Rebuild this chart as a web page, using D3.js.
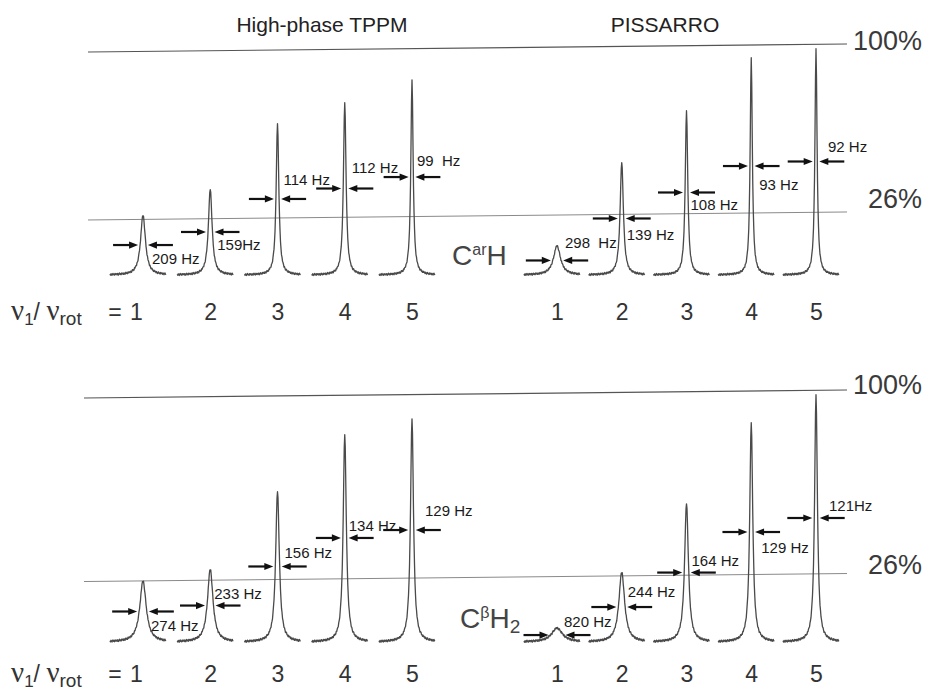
<!DOCTYPE html>
<html>
<head>
<meta charset="utf-8">
<script src="https://cdn.jsdelivr.net/npm/d3@7"></script>
<style>
  body { margin: 0; background: #fff; }
  svg { display: block; font-family: "Liberation Sans", Arial, sans-serif; }
</style>
</head>
<body>
<div id="chart"></div>
<script>
// ---- data ----
var ratios        = [ 1, 2, 3, 4, 5 ];          // nu1 / nu_rot
var refLevels     = [ 100, 26 ];
var refLabels     = [ '100%', '26%' ];
var methods       = [ 'High-phase TPPM', 'PISSARRO' ];

// CarH, high-phase TPPM
var tppmArHeight  = [ 26.4, 37.9, 67.0, 76.2, 86.3 ];
var tppmArHz      = [ 209, 159, 114, 112, 99 ];
var tppmArText    = [ '209 Hz', '159Hz', '114 Hz', '112 Hz', '99  Hz' ];
// CarH, PISSARRO
var pissArHeight  = [ 12.8, 49.8, 72.7, 96.0, 100 ];
var pissArHz      = [ 298, 139, 108, 93, 92 ];
var pissArText    = [ '298  Hz', '139 Hz', '108 Hz', '93 Hz', '92 Hz' ];
// CbH2, high-phase TPPM
var tppmCbHeight  = [ 24.6, 29.4, 60.9, 83.9, 90.3 ];
var tppmCbHz      = [ 274, 233, 156, 134, 129 ];
var tppmCbText    = [ '274 Hz', '233 Hz', '156 Hz', '134 Hz', '129 Hz' ];
// CbH2, PISSARRO
var pissCbHeight  = [ 5.6, 28.2, 56.0, 88.7, 100 ];
var pissCbHz      = [ 820, 244, 164, 129, 121 ];
var pissCbText    = [ '820 Hz', '244 Hz', '164 Hz', '129 Hz', '121Hz' ];

// small fixed baseline texture (in % units)
var wiggle        = [ 0.2, -0.3, 0.35, 0, -0.4, 0.25, 0.45, -0.15, 0.1, -0.35, 0.4, -0.1, 0.3 ];

// ---- layout ----
var chart_width   = 933;
var chart_height  = 691;
var lineTilt      = 8;

// line width (FWHM, px) from the quoted Hz value
var w_scale = d3.scaleLinear().domain([ 0, 300, 820 ]).range([ 0, 8.4, 13 ]);

var svg = d3.select( '#chart' )
    .append( 'svg' )
    .attr( 'width', chart_width )
    .attr( 'height', chart_height );

var x_left  = d3.scaleLinear().domain([ 1, 5 ]).range([ 143, 412 ]);
var x_right = d3.scaleLinear().domain([ 1, 5 ]).range([ 557, 816 ]);

// label offsets [dx from peak, dy from arrow]
var panels = [
    {
        y_scale: d3.scaleLinear().domain([ 0, 100 ]).range([ 275, 48 ]),
        numY: 320,
        lineX: [ 88, 847 ],
        refShift: [ 2, -8 ],
        blocks: [
            { x: x_left,  h: tppmArHeight, hz: tppmArHz, text: tppmArText, firstShift: -7,
              off: [[9,19],[7,18],[6,-14],[7,-16],[5,-11]] },
            { x: x_right, h: pissArHeight, hz: pissArHz, text: pissArText, firstShift: 0,
              off: [[8,-12],[5,22],[4,18],[8,24],[12,-10]] }
        ],
        group: { x: 452, y: 265, main: 'C', sup: 'ar', tail: 'H', sub: '' }
    },
    {
        y_scale: d3.scaleLinear().domain([ 0, 100 ]).range([ 642, 394 ]),
        numY: 682,
        lineX: [ 84, 847 ],
        refShift: [ 0, -4 ],
        blocks: [
            { x: x_left,  h: tppmCbHeight, hz: tppmCbHz, text: tppmCbText, firstShift: -7,
              off: [[8,20],[4,-7],[7,-8],[4,-7],[13,-14]] },
            { x: x_right, h: pissCbHeight, hz: pissCbHz, text: pissCbText, firstShift: 0,
              off: [[7,-8],[6,-10],[5,-7],[10,21],[13,-7]] }
        ],
        group: { x: 460, y: 628, main: 'C', sup: '\u03B2', tail: 'H', sub: '2' }
    }
];

// titles
svg.append( 'text' ).attr( 'x', 322 ).attr( 'y', 32 ).attr( 'text-anchor', 'middle' )
    .attr( 'font-size', 21 ).attr( 'fill', '#222' ).text( methods[0] );
svg.append( 'text' ).attr( 'x', 665 ).attr( 'y', 32 ).attr( 'text-anchor', 'middle' )
    .attr( 'font-size', 21 ).attr( 'fill', '#222' ).text( methods[1] );

function trace( h, hz ) {
    var g = w_scale( hz ) / 2;
    var pts = [];
    for ( var i = 0; i <= 112; i++ ) {
        var dx = -33 + i * 0.5;
        var v = h / ( 1 + ( dx / g ) * ( dx / g ) );
        pts.push([ dx, v + wiggle[ i % wiggle.length ] ]);
    }
    return pts;
}

function arrow( g, tx, y, dir ) {
    // dir = 1 : points right (tip at tx), dir = -1 : points left
    g.append( 'line' )
        .attr( 'x1', tx - dir * 25 ).attr( 'x2', tx - dir * 7 )
        .attr( 'y1', y ).attr( 'y2', y )
        .attr( 'stroke', '#111' ).attr( 'stroke-width', 2.2 );
    g.append( 'path' )
        .attr( 'd', 'M' + tx + ',' + y + 'L' + ( tx - dir * 9 ) + ',' + ( y - 3.6 ) +
                    'L' + ( tx - dir * 9 ) + ',' + ( y + 3.6 ) + 'Z' )
        .attr( 'fill', '#111' );
}

panels.forEach( function( p ) {
    var y_scale = p.y_scale;

    // reference lines
    refLevels.forEach( function( lv, i ) {
        var yy = y_scale( lv );
        svg.append( 'line' )
            .attr( 'x1', p.lineX[0] ).attr( 'x2', p.lineX[1] )
            .attr( 'y1', yy + lineTilt / 2 ).attr( 'y2', yy - lineTilt / 2 )
            .attr( 'stroke', i === 0 ? '#555' : '#8a8a8a' )
            .attr( 'stroke-width', i === 0 ? 1.2 : 1 );
        svg.append( 'text' )
            .attr( 'x', i === 0 ? 853 : 868 )
            .attr( 'y', yy + p.refShift[i] )
            .attr( 'font-size', 27 ).attr( 'fill', '#3a3a3a' )
            .text( refLabels[i] );
    });

    p.blocks.forEach( function( b ) {
        var line = d3.line()
            .x( function( d ) { return d[0]; } )
            .y( function( d ) { return y_scale( d[1] ); } );

        ratios.forEach( function( r, i ) {
            var cx = b.x( r );
            var g = svg.append( 'g' ).attr( 'transform', 'translate(' + cx + ',0)' );
            g.append( 'path' )
                .datum( trace( b.h[i], b.hz[i] ) )
                .attr( 'd', line )
                .attr( 'fill', 'none' )
                .attr( 'stroke', '#4a4a4a' )
                .attr( 'stroke-width', 1.3 )
                .attr( 'stroke-linejoin', 'round' );

            var ay = y_scale( b.h[i] / 2 );
            var gap = 2 + w_scale( b.hz[i] ) / 2;
            arrow( g, -gap, ay, 1 );
            arrow( g, gap, ay, -1 );

            g.append( 'text' )
                .attr( 'x', b.off[i][0] )
                .attr( 'y', ay + b.off[i][1] )
                .attr( 'font-size', 15 )
                .attr( 'fill', '#1a1a1a' )
                .style( 'white-space', 'pre' )
                .text( b.text[i] );
        });

        // ratio numbers
        var axis = d3.axisBottom( b.x ).tickValues( ratios ).tickSize( 0 ).tickPadding( 0 )
            .tickFormat( d3.format( 'd' ) );
        var ag = svg.append( 'g' )
            .attr( 'transform', 'translate(0,' + p.numY + ')' )
            .call( axis );
        ag.attr( 'font-size', null ).attr( 'font-family', null );
        ag.select( '.domain' ).remove();
        ag.selectAll( 'text' )
            .attr( 'y', 0 ).attr( 'dy', null )
            .attr( 'x', function( d ) { return d === 1 ? b.firstShift : 0; } )
            .attr( 'font-size', 23 ).attr( 'fill', '#333' );
    });

    // nu1 / nu_rot =
    var t = svg.append( 'text' ).attr( 'x', 11 ).attr( 'y', p.numY ).attr( 'fill', '#333' );
    t.append( 'tspan' ).attr( 'font-family', '"Liberation Serif", "DejaVu Serif", serif' )
        .attr( 'font-size', 29 ).text( '\u03BD' );
    t.append( 'tspan' ).attr( 'font-size', 17 ).attr( 'dy', 5 ).text( '1' );
    t.append( 'tspan' ).attr( 'font-size', 23 ).attr( 'dy', -5 ).text( '/ ' );
    t.append( 'tspan' ).attr( 'font-family', '"Liberation Serif", "DejaVu Serif", serif' )
        .attr( 'font-size', 29 ).text( '\u03BD' );
    t.append( 'tspan' ).attr( 'font-size', 19 ).attr( 'dy', 5 ).text( 'rot' );
    svg.append( 'text' ).attr( 'x', 115 ).attr( 'y', p.numY ).attr( 'text-anchor', 'middle' )
        .attr( 'font-size', 23 ).attr( 'fill', '#333' ).text( '=' );

    // group label
    var gl = svg.append( 'text' ).attr( 'x', p.group.x ).attr( 'y', p.group.y )
        .attr( 'font-size', 28 ).attr( 'fill', '#444' );
    gl.append( 'tspan' ).text( p.group.main );
    gl.append( 'tspan' ).attr( 'font-size', 16 ).attr( 'dy', -10 ).text( p.group.sup );
    gl.append( 'tspan' ).attr( 'dy', 10 ).text( p.group.tail );
    if ( p.group.sub ) {
        gl.append( 'tspan' ).attr( 'font-size', 19 ).attr( 'dy', 5 ).text( p.group.sub );
    }
});
</script>
</body>
</html>
